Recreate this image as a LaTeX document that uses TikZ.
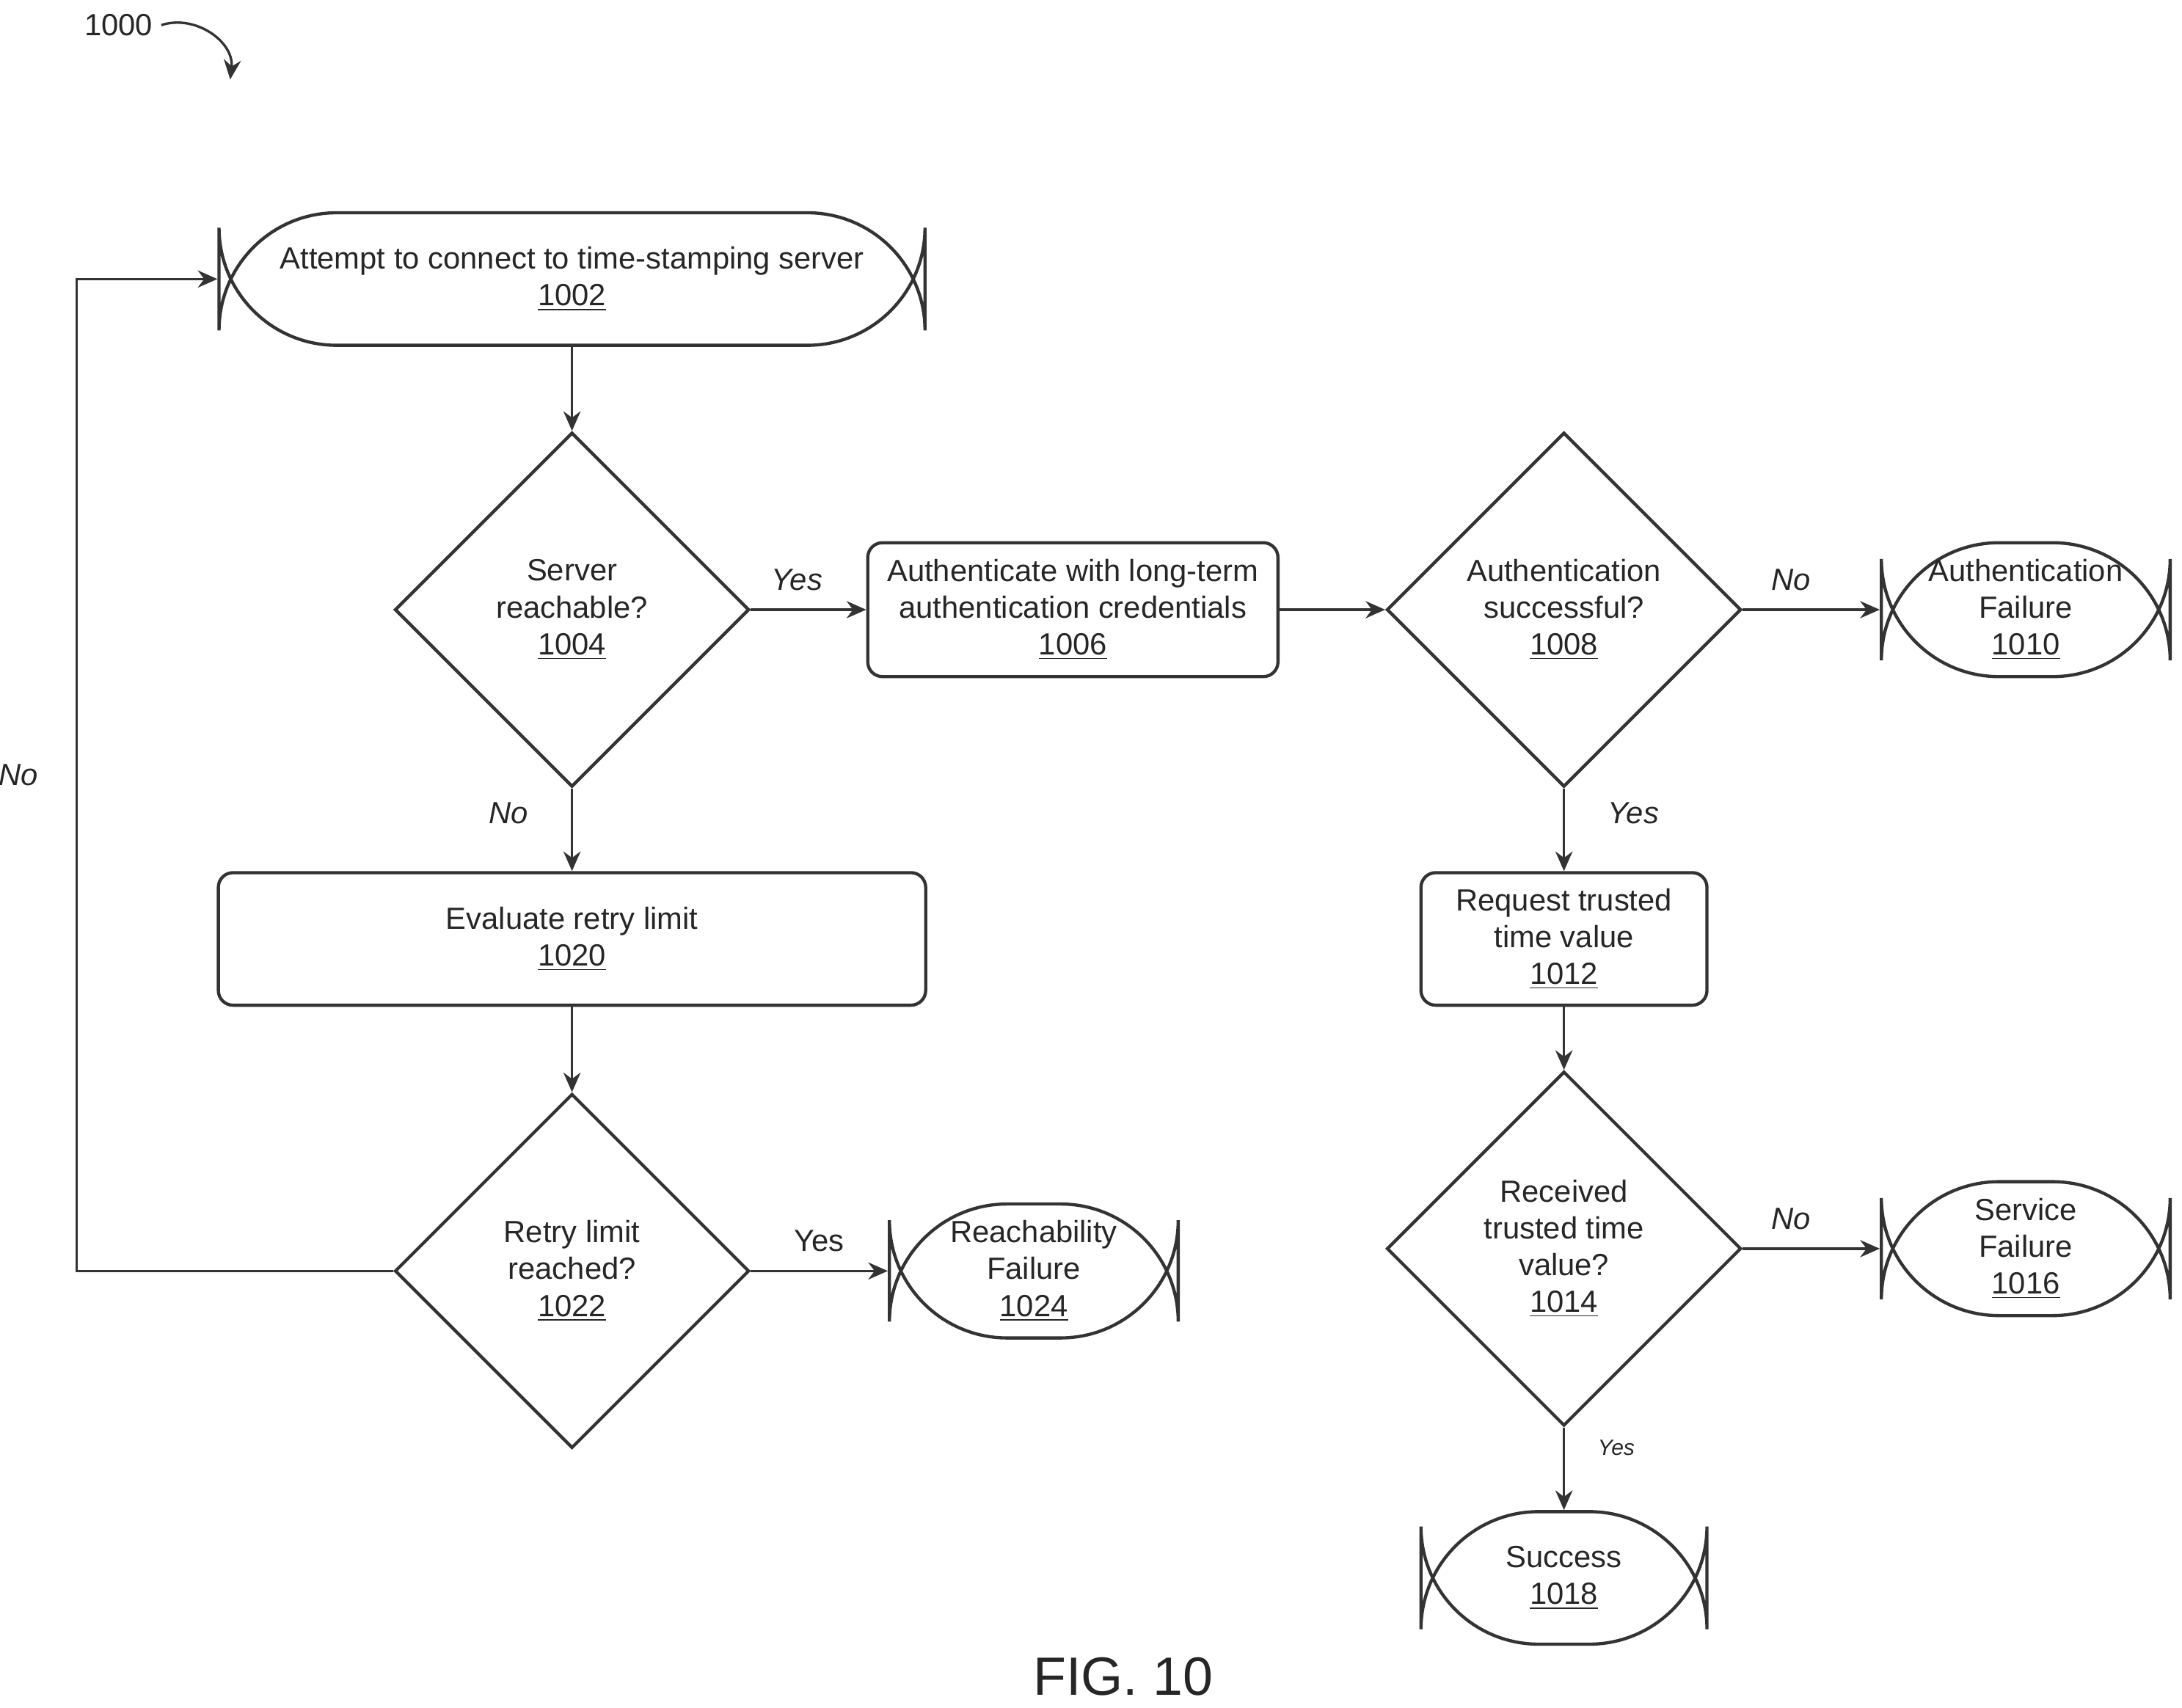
\documentclass[tikz,border=0pt]{standalone}
\usepackage{fontspec}
\setmainfont{Liberation Sans}
\usetikzlibrary{shapes.geometric,arrows.meta}
\begin{document}
\begin{tikzpicture}[x=0.02cm,y=-0.02cm,
  every node/.style={font=\fontsize{12.5}{15}\selectfont, text=black!85},
  term/.style={draw=black!80, line width=1.3pt, rounded corners=48pt, align=center},
  box/.style={draw=black!80, line width=1.3pt, rounded corners=6pt, align=center},
  dia/.style={draw=black!80, line width=1.3pt, diamond, minimum width=254*0.02cm, minimum height=254*0.02cm, inner sep=0pt, align=center},
  arr/.style={draw=black!80, line width=1pt, -{Stealth[length=8pt,width=7pt]}},
  lab/.style={font=\fontsize{12.5}{15}\selectfont\itshape}]
\useasboundingbox (0,0) rectangle (1564,1224);
\node[term, minimum width=506*0.02cm, minimum height=95*0.02cm] (n1002) at (410,200) {Attempt to connect to time-stamping server\\\underline{1002}};
\node[dia] (n1004) at (410,437) {Server\\reachable?\\\underline{1004}};
\node[box, minimum width=294*0.02cm, minimum height=96*0.02cm] (n1006) at (769,437) {Authenticate with long-term\\authentication credentials\\\underline{1006}};
\node[dia] (n1008) at (1121,437) {Authentication\\successful?\\\underline{1008}};
\node[term, minimum width=207*0.02cm, minimum height=96*0.02cm] (n1010) at (1452,437) {Authentication\\Failure\\\underline{1010}};
\node[box, minimum width=507*0.02cm, minimum height=95*0.02cm] (n1020) at (410,673) {Evaluate retry limit\\\underline{1020}};
\node[dia] (n1022) at (410,911) {Retry limit\\reached?\\\underline{1022}};
\node[term, minimum width=207*0.02cm, minimum height=96*0.02cm] (n1024) at (741,911) {Reachability\\Failure\\\underline{1024}};
\node[box, minimum width=205*0.02cm, minimum height=95*0.02cm] (n1012) at (1121,673) {Request trusted\\time value\\\underline{1012}};
\node[dia] (n1014) at (1121,895) {Received\\trusted time\\value?\\\underline{1014}};
\node[term, minimum width=207*0.02cm, minimum height=96*0.02cm] (n1016) at (1452,895) {Service\\Failure\\\underline{1016}};
\node[term, minimum width=205*0.02cm, minimum height=95*0.02cm] (n1018) at (1121,1131) {Success\\\underline{1018}};
\node (fig) at (805,1202) {\fontsize{22}{26}\selectfont FIG. 10};
\node (n1000) at (85,18) {1000};
\coordinate (c1) at (165,57);
\draw[arr] (n1000.east) .. controls (140,10) and (168,30) .. (c1);
\draw[arr] (n1002) -- (n1004);
\draw[arr] (n1004) -- (n1006) node[lab, pos=0.4, above=4pt] {Yes};
\draw[arr] (n1006) -- (n1008);
\draw[arr] (n1008) -- (n1010) node[lab, pos=0.35, above=4pt] {No};
\draw[arr] (n1004) -- (n1020) node[lab, pos=0.3, left=14pt] {No};
\draw[arr] (n1020) -- (n1022);
\draw[arr] (n1022) -- (n1024) node[pos=0.5, above=4pt] {Yes};
\draw[arr] (n1008) -- (n1012) node[lab, pos=0.3, right=14pt] {Yes};
\draw[arr] (n1012) -- (n1014);
\draw[arr] (n1014) -- (n1016) node[lab, pos=0.35, above=4pt] {No};
\draw[arr] (n1014) -- (n1018) node[lab, pos=0.25, right=10pt, font=\fontsize{9}{11}\selectfont\itshape] {Yes};
\draw[arr] (n1022.west) -- (55,911) -- (55,200) node[lab, pos=0.5, left=12pt] {No} -- (n1002.west);
\end{tikzpicture}
\end{document}
